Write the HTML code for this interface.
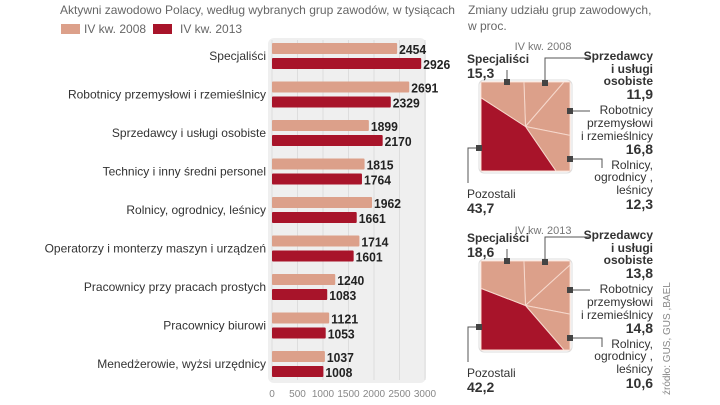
<!DOCTYPE html>
<html><head><meta charset="utf-8"><style>
body{margin:0;background:#fff;}
svg{display:block;font-family:"Liberation Sans",sans-serif;}
.v{font-family:"Liberation Sans",sans-serif;font-weight:bold;font-size:13px;fill:#222;}
</style></head><body>
<svg id="c" width="720" height="405" viewBox="0 0 720 405">
<text x="60" y="14" font-size="12" fill="#666" textLength="395" lengthAdjust="spacingAndGlyphs">Aktywni zawodowo Polacy, według wybranych grup zawodów, w  tysiącach</text>
<rect x="61" y="24" width="19" height="10" fill="#dca08a"/>
<text x="84" y="33" font-size="12" fill="#666">IV kw. 2008</text>
<rect x="153" y="24" width="19" height="10" fill="#a8142a"/>
<text x="180" y="33" font-size="12" fill="#666">IV kw. 2013</text>
<rect x="268" y="38" width="158" height="345" rx="6" fill="#efefef"/>
<g id="bars"></g>
<text x="468" y="14" font-size="12" fill="#666">Zmiany udziału grup zawodowych,</text>
<text x="468" y="30" font-size="12" fill="#666">w proc.</text>
<g id="pies"></g>
<text transform="translate(670,395) rotate(-90)" font-size="10" fill="#888">źródło: GUS, GUS ,BAEL</text>
</svg>
<script>
const categories=["Specjaliści","Robotnicy przemysłowi i rzemieślnicy","Sprzedawcy i usługi osobiste","Technicy i inny średni personel","Rolnicy, ogrodnicy, leśnicy","Operatorzy i monterzy maszyn i urządzeń","Pracownicy przy pracach prostych","Pracownicy biurowi","Menedżerowie, wyżsi urzędnicy"];
const values2008=[2454,2691,1899,1815,1962,1714,1240,1121,1037];
const values2013=[2926,2329,2170,1764,1661,1601,1083,1053,1008];
const ticks=[0,500,1000,1500,2000,2500,3000];
const share2008=[11.9,16.8,12.3,43.7,15.3];
const share2013=[13.8,14.8,10.6,42.2,18.6];
const NS="http://www.w3.org/2000/svg";
function mk(t,a,p){const e=document.createElementNS(NS,t);for(const k in a)e.setAttribute(k,a[k]);(p||document.getElementById('c')).appendChild(e);return e;}
const x=v=>272+v*153/3000;
const rowY=i=>56+i*38.5;
const bars=document.getElementById('bars');
ticks.forEach(t=>{
  const l=mk('line',{x1:x(t),x2:x(t),y1:40,y2:380,stroke:'#ddd','stroke-width':1},bars);
  
  
  const tx=mk('text',{x:x(t),y:397,'font-size':10,fill:'#888','text-anchor':'middle'},bars);
  tx.textContent=t;
  
  
});
categories.forEach((c,i)=>{
  const cy=rowY(i);
  const lb=mk('text',{x:266,y:cy+4,'font-size':12,fill:'#333','text-anchor':'end'},bars);
  lb.textContent=c;
  
  
  [[values2008[i],'#dca08a',cy-13],[values2013[i],'#a8142a',cy+2]].forEach(([v,col,y])=>{
    const r=mk('rect',{x:272,y:y,width:x(v)-272,height:11,fill:col,rx:1},bars);
    
    
    const t=mk('text',{x:x(v)+2,y:y+11,class:'v',textLength:27,lengthAdjust:'spacingAndGlyphs'},bars);
    t.textContent=v;
    
    
  });
});
const pies=document.getElementById('pies');
function drawPie(data,x0,y0,s,start){
  const cx=x0+s/2,cy=y0+s/2,h=s/2;
  const bg=mk('rect',{x:x0-2,y:y0-2,width:s+4,height:s+4,rx:5,fill:'#fff',stroke:'#ddd'},pies);
  
  
  const pt=a=>{const r=a*Math.PI/180,dx=Math.sin(r),dy=-Math.cos(r),t=h/Math.max(Math.abs(dx),Math.abs(dy));return [cx+dx*t,cy+dy*t];};
  let a=start;
  data.forEach((v,i)=>{
    const a1=a+v*3.6;
    const pts=[[cx,cy],pt(a)];
    for(let k=-315;k<720;k+=90){if(k>a&&k<a1)pts.push(pt(k));}
    pts.push(pt(a1));
    const p=mk('polygon',{points:pts.map(q=>q.join(',')).join(' '),fill:i==3?'#a8142a':'#dca08a',stroke:'#f6d8cc','stroke-width':1},pies);
    
    
    a=a1;
  });
}
drawPie(share2008,481,82,89,-2);
drawPie(share2013,481,261,89,-2);
function txt(s,xx,y,opt){const t=mk('text',Object.assign({x:xx,y:y,'font-size':12,fill:'#333'},opt||{}),pies);t.textContent=s;return t;}
function labels(d,off,title,ty){
  const B={'font-weight':'bold','font-size':12};
  const V={'font-weight':'bold','font-size':14};
  const R={'text-anchor':'end'};
  let t=txt(title,543,ty,{'text-anchor':'middle',fill:'#777','font-size':11});
  t=txt('Specjaliści',467,off+23,B);
  txt(String(d[4]).replace('.',','),467,off+38,V);
  txt('Sprzedawcy',653,off+20,Object.assign({},B,R));txt('i usługi',653,off+33,Object.assign({},B,R));txt('osobiste',653,off+45,Object.assign({},B,R));
  txt(String(d[0]).replace('.',','),653,off+59,Object.assign({},V,R));
  txt('Robotnicy',653,off+74,R);txt('przemysłowi',653,off+87,R);txt('i rzemieślnicy',653,off+100,R);
  txt(String(d[1]).replace('.',','),653,off+114,Object.assign({},V,R));
  txt('Rolnicy,',653,off+129,R);txt('ogrodnicy ,',653,off+141,R);txt('leśnicy',653,off+154,R);
  txt(String(d[2]).replace('.',','),653,off+169,Object.assign({},V,R));
  txt('Pozostali',467,off+158);
  txt(String(d[3]).replace('.',','),467,off+173,V);
  const L='#555';
  [['M507,'+(off+42)+' V'+(off+30)],['M545,'+(off+43)+' V'+(off+18)+' H590'],['M570,'+(off+71)+' H590'],['M570,'+(off+119)+' H602 V'+(off+128)],['M479,'+(off+108)+' H468 V'+(off+143)]].forEach(p=>mk('path',{d:p[0],stroke:L,fill:'none','stroke-width':1},pies));
  [[507,42],[545,43],[570,71],[570,119],[479,108]].forEach(q=>{const m=mk('rect',{x:q[0]-3,y:off+q[1]-3,width:6,height:6,fill:'#444'},pies);});
}
labels(share2008,40,'IV kw. 2008',50);
labels(share2013,219,'IV kw. 2013',234);
</script>
</body></html>
